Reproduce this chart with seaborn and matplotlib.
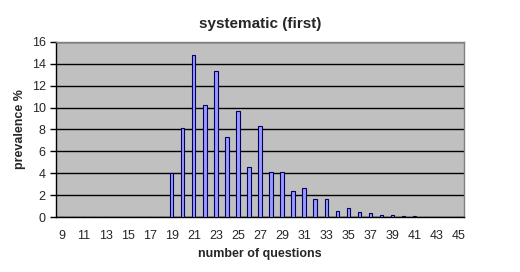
import numpy as np
import pandas as pd
import matplotlib
matplotlib.use("Agg")
import matplotlib.pyplot as plt
import seaborn as sns

# number of questions 9..45, prevalence in %
questions = list(range(9, 46))
prevalence = [0, 0, 0, 0, 0, 0, 0, 0, 0, 0,          # 9-18
              4.0, 8.1, 14.85, 10.27, 13.36, 7.27, 9.66, 4.57, 8.36, 4.09,  # 19-28
              4.09, 2.39, 2.64, 1.64, 1.64, 0.57, 0.82, 0.45, 0.39, 0.18,  # 29-38
              0.18, 0.09, 0.09, 0, 0, 0, 0]          # 39-45
tick_labels = [str(q) if q % 2 == 1 else "" for q in questions]

df = pd.DataFrame({"questions": [str(q) for q in questions], "prevalence": prevalence})

sns.set_style("white")
plt.rcParams["font.family"] = ["Liberation Sans", "DejaVu Sans"]

fig = plt.figure(figsize=(5.2, 2.72), dpi=100)
ax = fig.add_axes([0.1077, 0.2022, 0.7846, 0.6434])
ax.set_facecolor("#c0c0c0")

sns.barplot(data=df, x="questions", y="prevalence", order=df["questions"],
            color="#9999ff", saturation=1, width=0.3, edgecolor="#000060",
            linewidth=0.8, ax=ax, zorder=3)

ax.set_xlim(-0.5, len(questions) - 0.5)
ax.set_ylim(0, 16)
ax.set_yticks(np.arange(0, 17, 2))
ax.yaxis.grid(True, color="black", linewidth=1, zorder=1)
ax.set_axisbelow(True)

ax.set_xticks(range(len(questions)))
ax.set_xticklabels(tick_labels, fontsize=9)
ax.set_xticks(np.arange(-0.5, len(questions), 1), minor=True)
ax.tick_params(axis="x", which="major", length=0, pad=9)
ax.tick_params(axis="x", which="minor", length=4, width=1, color="black", direction="out")
ax.tick_params(axis="y", length=4, width=1, color="black", direction="out", labelsize=9, left=True)

for side in ["top", "right"]:
    ax.spines[side].set_color("#808080")
    ax.spines[side].set_linewidth(1)
for side in ["left", "bottom"]:
    ax.spines[side].set_color("black")
    ax.spines[side].set_linewidth(1)

ax.set_xlabel("number of questions", fontsize=9, fontweight="bold", labelpad=5)
ax.set_ylabel("prevalence %", fontsize=9, fontweight="bold", labelpad=4)
ax.set_title("systematic (first)", fontsize=11, fontweight="bold", pad=10)

plt.savefig("out.png", dpi=100)
